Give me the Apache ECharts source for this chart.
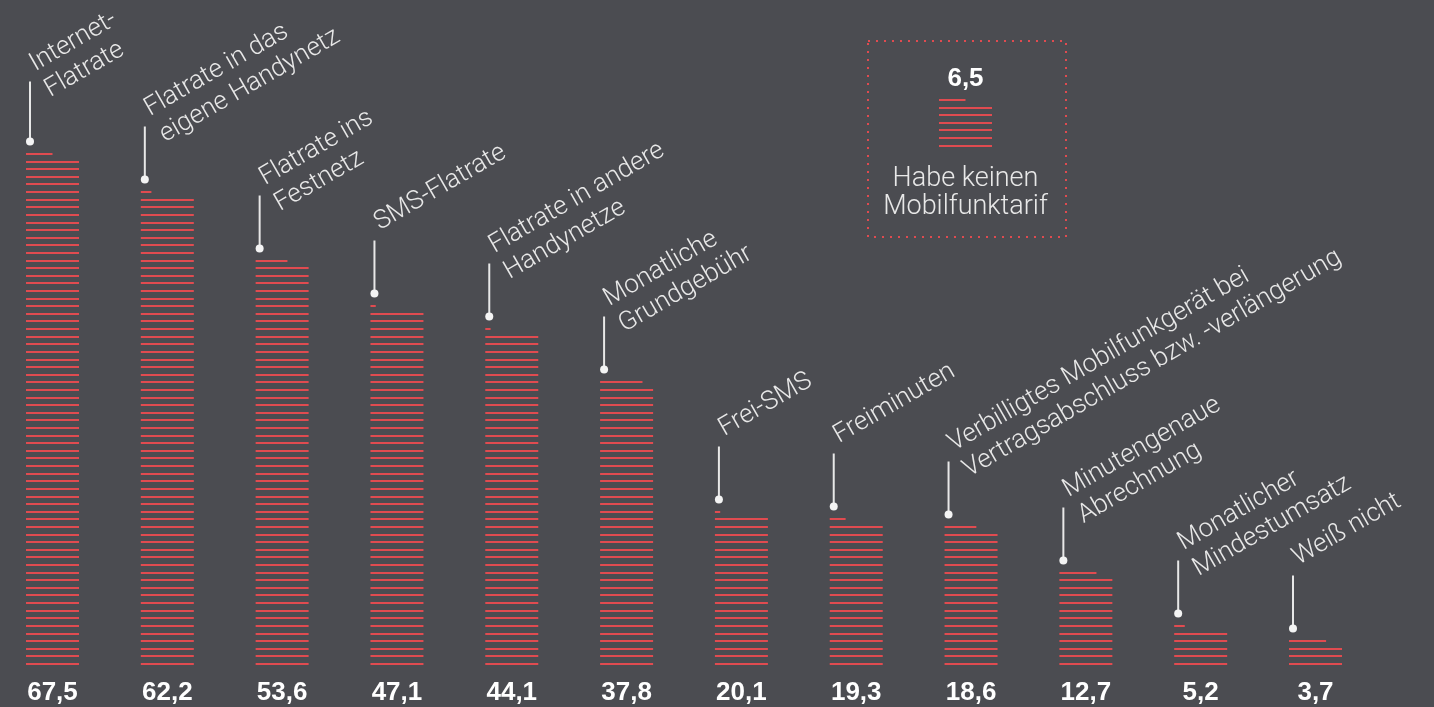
<!DOCTYPE html>
<html>
<head>
<meta charset="utf-8">
<script src="https://cdn.jsdelivr.net/npm/echarts@6/dist/echarts.min.js"></script>
<style>
  html, body { margin: 0; padding: 0; background: #4b4c51; }
  #chart { width: 1434px; height: 707px; }
</style>
</head>
<body>
<div id="chart"></div>
<script>
// Tarif-Bestandteile (Angaben in Prozent)
const categories = [
  'Internet-\nFlatrate',
  'Flatrate in das\neigene Handynetz',
  'Flatrate ins\nFestnetz',
  'SMS-Flatrate',
  'Flatrate in andere\nHandynetze',
  'Monatliche\nGrundgebühr',
  'Frei-SMS',
  'Freiminuten',
  'Verbilligtes Mobilfunkgerät bei\nVertragsabschluss bzw. -verlängerung',
  'Minutengenaue\nAbrechnung',
  'Monatlicher\nMindestumsatz',
  'Weiß nicht'
];
const values = [67.5, 62.2, 53.6, 47.1, 44.1, 37.8, 20.1, 19.3, 18.6, 12.7, 5.2, 3.7];

// Kasten rechts oben
const boxCategories = ['Habe keinen\nMobilfunktarif'];
const boxValues = [6.5];

const RED = '#e04b50';
const TEXT = '#e8e8e8';
const BAR_W = 53;
const LIGHT = '300 26px Roboto, "Liberation Sans", sans-serif';
const LIGHT_BOX = '300 27px Roboto, "Liberation Sans", sans-serif';
const BOLD = 'bold 26px "Liberation Sans", Arial, sans-serif';
const fmt = v => String(v).replace('.', ',');

// one horizontal line per percent, the top one shortened to the fraction
function stripes(idx, v, api) {
  const center = api.coord([idx, 0]);
  const left = center[0] - BAR_W / 2;
  const full = Math.floor(v + 1e-9);
  const frac = v - full;
  const out = [];
  for (let k = 0; k < full; k++) {
    const y = Math.round(api.coord([idx, k])[1]);
    out.push({ type: 'line', shape: { x1: left, y1: y, x2: left + BAR_W, y2: y }, style: { stroke: RED, lineWidth: 2 } });
  }
  let topY = Math.round(api.coord([idx, Math.max(full - 1, 0)])[1]);
  if (frac > 0.01) {
    topY = Math.round(api.coord([idx, full])[1]);
    out.push({ type: 'line', shape: { x1: left, y1: topY, x2: left + BAR_W * frac, y2: topY }, style: { stroke: RED, lineWidth: 2 } });
  }
  return { out, left, center, topY };
}

function renderMain(params, api) {
  const idx = api.value(0);
  const v = api.value(1);
  const s = stripes(idx, v, api);
  const children = s.out;
  const px = s.left + 4;
  const dotY = s.topY - 12.5;
  const lineTop = dotY - (idx === 0 ? 60 : 53);
  children.push({ type: 'line', shape: { x1: px, y1: dotY, x2: px, y2: lineTop }, style: { stroke: TEXT, lineWidth: 2 } });
  children.push({ type: 'circle', shape: { cx: px, cy: dotY, r: 4 }, style: { fill: '#f4f4f4' } });
  const lines = categories[params.dataIndex].split('\n');
  children.push({
    type: 'group',
    x: px + 6, y: lineTop - 9,
    rotation: Math.PI / 6,
    children: lines.map((t, i) => ({
      type: 'text',
      x: 0, y: i * 30 + 5,
      style: { text: t, fill: TEXT, font: LIGHT, align: 'left', verticalAlign: 'bottom' }
    }))
  });
  children.push({
    type: 'text',
    x: s.center[0], y: s.center[1] + 29,
    style: { text: fmt(v), fill: '#ffffff', font: BOLD, align: 'center', verticalAlign: 'middle' }
  });
  return { type: 'group', children };
}

function renderBox(params, api) {
  const idx = api.value(0);
  const v = api.value(1);
  const s = stripes(idx, v, api);
  const children = s.out;
  children.push({
    type: 'text',
    x: s.center[0], y: s.topY - 21,
    style: { text: fmt(v), fill: '#ffffff', font: BOLD, align: 'center', verticalAlign: 'middle' }
  });
  children.push({
    type: 'text',
    x: s.center[0], y: s.center[1] + 20,
    style: { text: boxCategories[params.dataIndex], fill: TEXT, font: LIGHT_BOX, align: 'center', verticalAlign: 'top', lineHeight: 28 }
  });
  return { type: 'group', children };
}

const hiddenAxis = { axisLine: { show: false }, axisTick: { show: false }, axisLabel: { show: false }, splitLine: { show: false } };

const chart = echarts.init(document.getElementById('chart'));
chart.setOption({
  backgroundColor: '#4b4c51',
  animation: false,
  grid: [
    { left: 52.5, right: 118.5, top: 154, bottom: 43 },
    { left: 939, width: 53, top: 100, height: 6 * 510 / 67 }
  ],
  xAxis: [
    Object.assign({ type: 'category', gridIndex: 0, data: categories, boundaryGap: false }, hiddenAxis),
    Object.assign({ type: 'category', gridIndex: 1, data: boxCategories }, hiddenAxis)
  ],
  yAxis: [
    Object.assign({ type: 'value', gridIndex: 0, min: 0, max: 67 }, hiddenAxis),
    Object.assign({ type: 'value', gridIndex: 1, min: 0, max: 6 }, hiddenAxis)
  ],
  graphic: [{
    type: 'rect',
    shape: { x: 868, y: 41, width: 198, height: 196 },
    style: { fill: 'none', stroke: RED, lineWidth: 2, lineDash: [2, 6] }
  }],
  series: [
    {
      type: 'custom',
      xAxisIndex: 0, yAxisIndex: 0,
      renderItem: renderMain,
      data: values.map((v, i) => [i, v]),
      clip: false
    },
    {
      type: 'custom',
      xAxisIndex: 1, yAxisIndex: 1,
      renderItem: renderBox,
      data: boxValues.map((v, i) => [i, v]),
      clip: false
    }
  ]
});
</script>
</body>
</html>
